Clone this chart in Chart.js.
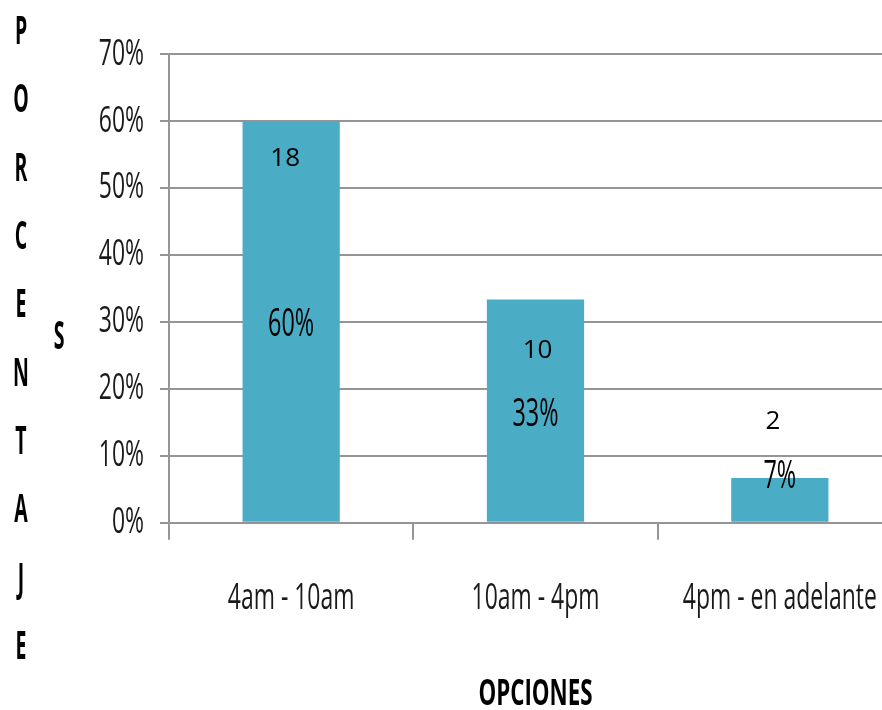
<!DOCTYPE html>
<html><head><meta charset="utf-8">
<script src="https://cdn.jsdelivr.net/npm/chart.js@4.4.1/dist/chart.umd.min.js"></script>
<style>html,body{margin:0;padding:0;background:#fff;overflow:hidden;width:882px;height:710px}#wrap{width:902px;height:710px;position:relative}canvas{display:block;width:902px;height:710px}</style>
</head><body>
<div id="wrap"><canvas id="c" width="902" height="710"></canvas></div>
<script>
// ---- data ----
const categories = ['4am - 10am', '10am - 4pm', '4pm - en adelante'];
const percentValues = [60, 33.33, 6.67];
const countValues = [18, 10, 2];
const yTicks = [0, 10, 20, 30, 40, 50, 60, 70];
const yAxisLetters = ['P', 'O', 'R', 'C', 'E', 'N', 'T', 'A', 'J', 'E'];
const yAxisExtra = 'S';
const xAxisTitle = 'OPCIONES';

const FONT = "'Open Sans', 'Noto Sans', sans-serif";
const GRID = '#959595';
let squeeze = 0.62;

// horizontally condensed text (like the reference's squeezed Calibri)
const squeezeText = {
  id: 'squeezeText',
  beforeInit(chart) {
    const ctx = chart.ctx;
    const raw = ctx.fillText;
    const rawMeasure = ctx.measureText;
    ctx.rawFillText = raw;
    ctx.measureText = function (text) {
      const m = rawMeasure.call(this, text);
      return { width: m.width * squeeze, actualBoundingBoxAscent: m.actualBoundingBoxAscent, actualBoundingBoxDescent: m.actualBoundingBoxDescent };
    };
    ctx.fillText = function (text, x, y, maxWidth) {
      const w = rawMeasure.call(this, text).width * squeeze;
      const m = (maxWidth === undefined || maxWidth === null) ? w : Math.min(maxWidth, w);
      return raw.call(this, text, x, y, m);
    };
  }
};

const barLabels = {
  id: 'barLabels',
  afterDatasetsDraw(chart) {
    const ctx = chart.ctx, y = chart.scales.y;
    const meta = chart.getDatasetMeta(0);
    const pctAt = [30, 16.6, 7.3];
    const cntAt = [54.7, 26, 15.4];
    const cntDx = [-6, 2, -7];
    ctx.save();
    ctx.fillStyle = '#000';
    ctx.textAlign = 'center';
    ctx.textBaseline = 'middle';
    meta.data.forEach((bar, i) => {
      ctx.font = `39px ${FONT}`;
      squeeze = 0.6;
      ctx.fillText(Math.round(percentValues[i]) + '%', bar.x, y.getPixelForValue(pctAt[i]) + 3);
      ctx.font = `26px ${FONT}`;
      ctx.rawFillText(String(countValues[i]), bar.x + cntDx[i], y.getPixelForValue(cntAt[i]) + 2);
    });
    squeeze = 0.62;
    ctx.restore();
  },
  afterDraw(chart) {
    const ctx = chart.ctx;
    ctx.save();
    ctx.fillStyle = '#000';
    ctx.textAlign = 'center';
    ctx.textBaseline = 'middle';
    ctx.font = `bold 39px ${FONT}`;
    squeeze = 0.5;
    yAxisLetters.forEach((l, i) => ctx.fillText(l, 21, 33 + i * 68.3));
    ctx.fillText(yAxisExtra, 59, 338);
    squeeze = 0.62;
    ctx.restore();
  }
};

new Chart(document.getElementById('c'), {
  type: 'bar',
  data: {
    labels: categories,
    datasets: [{
      data: percentValues,
      backgroundColor: '#4BACC6',
      borderWidth: 0,
      barPercentage: 0.398,
      categoryPercentage: 1
    }]
  },
  options: {
    responsive: false,
    animation: false,
    layout: { padding: { top: 54, left: 0, right: 0, bottom: 0 } },
    plugins: { legend: { display: false }, tooltip: { enabled: false } },
    scales: {
      y: {
        min: 0, max: 70,
        afterBuildTicks(scale) { scale.ticks = yTicks.map(v => ({ value: v })); },
        afterFit(scale) { scale.width = 169; },
        ticks: {
          callback: v => v + '%',
          color: '#1a1a1a',
          padding: 16,
          font: { family: FONT, size: 37 }
        },
        grid: { color: GRID, lineWidth: 2, tickLength: 9, drawTicks: true },
        border: { display: true, color: GRID, width: 2 }
      },
      x: {
        afterFit(scale) { scale.height = 187.3; scale.paddingLeft = 0; scale.paddingRight = 0; },
        ticks: {
          color: '#1a1a1a',
          padding: 37,
          maxRotation: 0, minRotation: 0, autoSkip: false,
          font: { family: FONT, size: 37 }
        },
        grid: { color: GRID, lineWidth: 2, tickLength: 17, drawOnChartArea: false, offset: true },
        border: { display: true, color: GRID, width: 2 },
        title: {
          display: true, text: xAxisTitle, color: '#000', padding: 0,
          font: { family: FONT, size: 36, weight: 'bold', lineHeight: 0.85 }
        }
      }
    }
  },
  plugins: [squeezeText, barLabels]
});
</script>
</body></html>
